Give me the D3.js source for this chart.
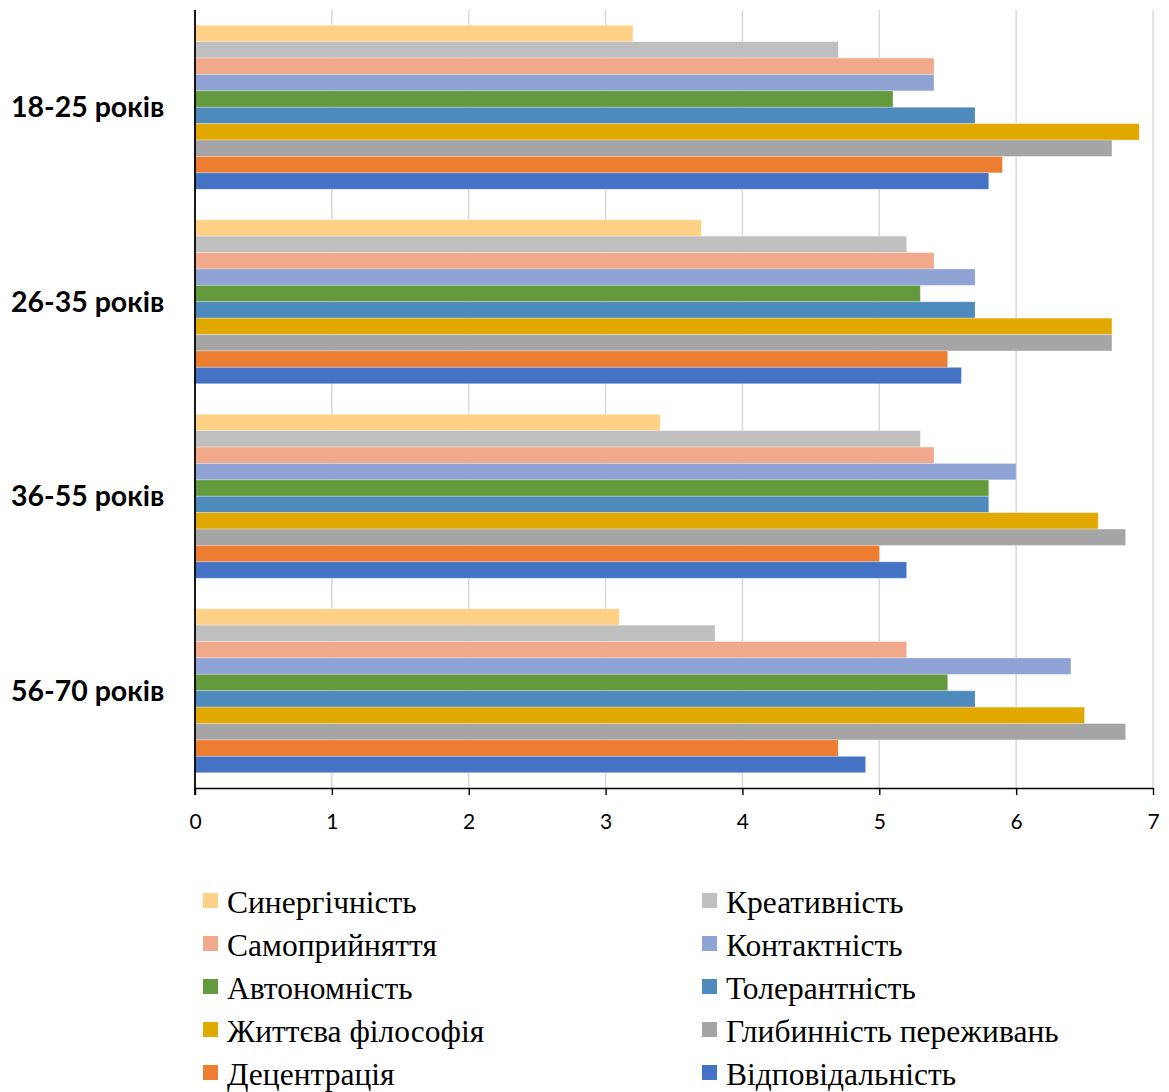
<!DOCTYPE html>
<html>
<head>
<meta charset="utf-8">
<script src="https://cdn.jsdelivr.net/npm/d3@7"></script>
<style>
  html, body { margin: 0; padding: 0; background: #fff; }
  svg { display: block; }
</style>
</head>
<body>
<svg id="chart" width="1169" height="1092"></svg>
<script>
// ---- Data ----
const categories = ["18-25 років", "26-35 років", "36-55 років", "56-70 років"];
const seriesNames = [
  "Синергічність", "Креативність", "Самоприйняття", "Контактність", "Автономність",
  "Толерантність", "Життєва філософія", "Глибинність переживань", "Децентрація", "Відповідальність"
];
const seriesColors = [
  "#FED186", "#BFBFBF", "#F1A98B", "#8FA4D4", "#639A3E",
  "#4E8ABC", "#E1A900", "#A5A5A5", "#ED7D31", "#4472C4"
];
// values per series, one per category (18-25, 26-35, 36-55, 56-70)
const synergy        = [3.2, 3.7, 3.4, 3.1];
const creativity     = [4.7, 5.2, 5.3, 3.8];
const selfAcceptance = [5.4, 5.4, 5.4, 5.2];
const contact        = [5.4, 5.7, 6.0, 6.4];
const autonomy       = [5.1, 5.3, 5.8, 5.5];
const tolerance      = [5.7, 5.7, 5.8, 5.7];
const lifePhilosophy = [6.9, 6.7, 6.6, 6.5];
const depth          = [6.7, 6.7, 6.8, 6.8];
const decentration   = [5.9, 5.5, 5.0, 4.7];
const responsibility = [5.8, 5.6, 5.2, 4.9];
const seriesValues = [synergy, creativity, selfAcceptance, contact, autonomy,
  tolerance, lifePhilosophy, depth, decentration, responsibility];
const xTicks = [0, 1, 2, 3, 4, 5, 6, 7];

// ---- Layout ----
const svg = d3.select("#chart");
const mLeft = 195, mRight = 1153, mTop = 10, mBottom = 788;

const x = d3.scaleLinear().domain([0, 7]).range([mLeft, mRight]);
const gap = 0.157;
const y0 = d3.scaleBand().domain(categories).range([mTop, mBottom])
  .paddingInner(gap).paddingOuter(gap / 2);
const y1 = d3.scaleBand().domain(seriesNames).range([0, y0.bandwidth()]).padding(0);

// gridlines
svg.append("g").selectAll("line").data(xTicks.filter(d => d > 0)).join("line")
  .attr("x1", d => x(d)).attr("x2", d => x(d))
  .attr("y1", mTop).attr("y2", mBottom)
  .attr("stroke", "#D9D9D9").attr("stroke-width", 1.5);

// bars
const groups = svg.append("g").selectAll("g").data(categories).join("g")
  .attr("transform", c => `translate(0,${y0(c)})`);
groups.selectAll("rect")
  .data((c, ci) => seriesNames.map((s, si) => ({ s, si, v: seriesValues[si][ci] })))
  .join("rect")
  .attr("x", x(0))
  .attr("y", d => y1(d.s))
  .attr("width", d => x(d.v) - x(0))
  .attr("height", y1.bandwidth())
  .attr("fill", d => seriesColors[d.si])
  .attr("stroke", "rgba(255,255,255,0.35)")
  .attr("stroke-width", 0.8);

// x axis
const xAxis = svg.append("g").attr("transform", `translate(0,${mBottom})`)
  .call(d3.axisBottom(x).tickValues(xTicks).tickFormat(d3.format("d"))
    .tickSize(7).tickPadding(19).tickSizeOuter(0));
xAxis.select(".domain").attr("stroke", "#000").attr("stroke-width", 1.6);
xAxis.selectAll(".tick line").attr("stroke", "#000").attr("stroke-width", 1.4);
xAxis.selectAll(".tick text")
  .attr("font-family", "Lato, 'Open Sans', sans-serif")
  .attr("font-size", 21).attr("fill", "#000");

// y axis line
svg.append("line")
  .attr("x1", x(0)).attr("x2", x(0)).attr("y1", mTop).attr("y2", mBottom + 7)
  .attr("stroke", "#000").attr("stroke-width", 1.8);

// category labels
svg.append("g").selectAll("text").data(categories).join("text")
  .attr("x", 11)
  .attr("y", c => y0(c) + y0.bandwidth() / 2)
  .attr("dy", "0.35em")
  .attr("font-family", "Lato, 'Open Sans', sans-serif")
  .attr("font-weight", "bold")
  .attr("font-size", 28.5)
  .attr("fill", "#000")
  .text(c => c);

// legend
const legendCols = [203, 702];
const legendRow0 = 913, legendRowStep = 43;
const legend = svg.append("g").selectAll("g").data(seriesNames).join("g")
  .attr("transform", (s, i) => `translate(${legendCols[i % 2]},${legendRow0 + Math.floor(i / 2) * legendRowStep})`);
legend.append("rect")
  .attr("x", 0).attr("y", -20).attr("width", 15).attr("height", 15)
  .attr("fill", (s, i) => seriesColors[i]);
legend.append("text")
  .attr("x", 24).attr("y", 0)
  .attr("font-family", "'Liberation Serif', 'Times New Roman', serif")
  .attr("font-size", 31.5)
  .attr("fill", "#000")
  .text(s => s);
</script>
</body>
</html>
